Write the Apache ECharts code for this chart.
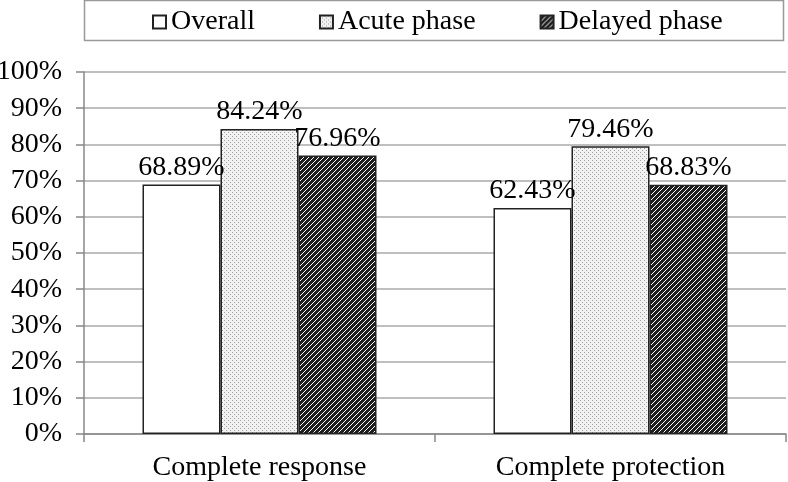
<!DOCTYPE html>
<html><head><meta charset="utf-8">
<script src="https://cdn.jsdelivr.net/npm/echarts@6/dist/echarts.min.js"></script>
<style>html,body{margin:0;padding:0;background:#fff}#c{width:788px;height:482px}</style>
</head><body><div id="c"></div>
<script>
const categories = ['Complete response', 'Complete protection'];
const seriesNames = ['Overall', 'Acute phase', 'Delayed phase'];
const overall = [68.89, 62.43];
const acute = [84.24, 79.46];
const delayed = [76.96, 68.83];
const yTicks = [0, 10, 20, 30, 40, 50, 60, 70, 80, 90, 100];

function dotPattern() {
  const c = document.createElement('canvas'); c.width = 4; c.height = 4;
  const g = c.getContext('2d');
  g.fillStyle = '#f2f2f2'; g.fillRect(0, 0, 4, 4);
  g.fillStyle = '#a0a0a0';
  g.fillRect(0, 0, 1, 1); g.fillRect(2, 2, 1, 1);
  return c;
}
function hatchPattern() {
  const s = 5;
  const c = document.createElement('canvas'); c.width = s; c.height = s;
  const g = c.getContext('2d');
  for (let y = 0; y < s; y++) for (let x = 0; x < s; x++) {
    g.fillStyle = ((x + y) % s === 0) ? '#ffffff' : '#1e1e1e';
    g.fillRect(x, y, 1, 1);
  }
  return c;
}
const fills = ['#ffffff', { image: dotPattern(), repeat: 'repeat' }, { image: hatchPattern(), repeat: 'repeat' }];
const dataSets = [overall, acute, delayed];
const font = '"Liberation Serif", "Times New Roman", serif';
const fs = 28;

const chart = echarts.init(document.getElementById('c'), null, { renderer: 'canvas' });
chart.setOption({
  animation: false,
  textStyle: { fontFamily: font },
  graphic: [{ type: 'rect', shape: { x: 84.5, y: 0.5, width: 699, height: 40 }, style: { fill: 'none', stroke: '#999', lineWidth: 1.5 } }],
  legend: {
    left: 147, top: 3, itemWidth: 13, itemHeight: 13, itemGap: 64,
    icon: 'rect',
    textStyle: { fontFamily: font, fontSize: fs, color: '#000', padding: [0, 0, 0, 0] },
    data: seriesNames
  },
  grid: { left: 84, right: 2, top: 72, bottom: 48, containLabel: false, outerBoundsMode: 'none' },
  xAxis: {
    type: 'category', data: categories,
    axisLine: { lineStyle: { color: '#888', width: 1.5 } },
    axisTick: { show: true, length: 8, lineStyle: { color: '#888', width: 1.5 } },
    axisLabel: { fontFamily: font, fontSize: fs, color: '#000', margin: 20 }
  },
  yAxis: {
    type: 'value', min: yTicks[0], max: yTicks[yTicks.length - 1], interval: 10,
    axisLine: { show: true, lineStyle: { color: '#888', width: 1.5 } },
    axisTick: { show: true, length: 8, lineStyle: { color: '#888', width: 1.5 } },
    splitLine: { lineStyle: { color: '#aaa', width: 1.5 } },
    axisLabel: { fontFamily: font, fontSize: fs, color: '#000', margin: 22, formatter: v => v + '%' }
  },
  series: seriesNames.map((n, i) => ({
    name: n, type: 'bar', data: dataSets[i],
    barWidth: 78, barGap: '0%',
    itemStyle: { color: fills[i], borderColor: '#222', borderWidth: 1.5 },
    label: { show: true, position: 'top', distance: 3, fontFamily: font, fontSize: fs, color: '#000', formatter: p => p.value.toFixed(2) + '%' }
  }))
});
</script></body></html>
